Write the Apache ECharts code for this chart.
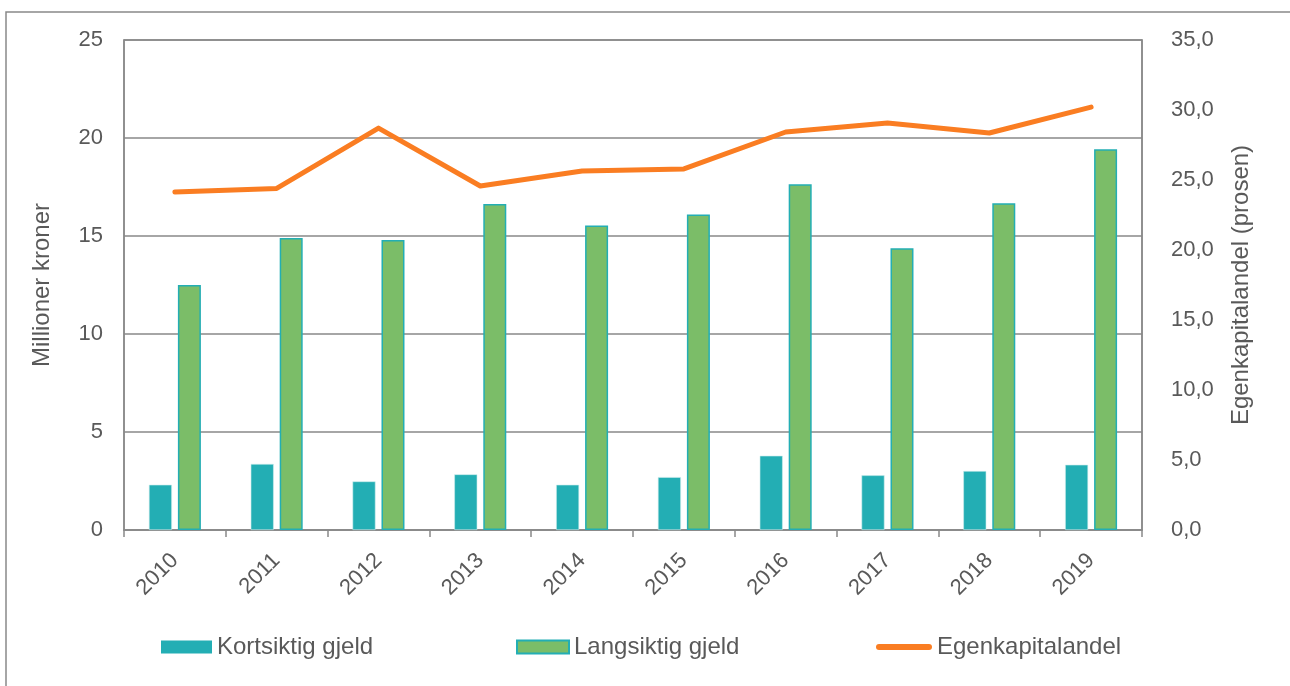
<!DOCTYPE html>
<html>
<head>
<meta charset="utf-8">
<script src="https://cdn.jsdelivr.net/npm/echarts@6/dist/echarts.min.js"></script>
<style>
html,body{margin:0;padding:0;background:#fff;}
#chart{width:1290px;height:686px;}
</style>
</head>
<body>
<div id="chart"></div>
<script>
var years = ['2010','2011','2012','2013','2014','2015','2016','2017','2018','2019'];
var kortsiktig = [2.31, 3.37, 2.48, 2.84, 2.31, 2.70, 3.79, 2.79, 3.01, 3.33];
var langsiktig = [12.5, 14.9, 14.8, 16.63, 15.53, 16.1, 17.64, 14.37, 16.67, 19.42];
var egenkapital = [24.14, 24.4, 28.71, 24.57, 25.64, 25.79, 28.43, 29.07, 28.36, 30.21];
var leftTicks = [0, 25, 5];
var rightTicks = [0, 35, 5];

var FONT = '"Liberation Sans", Arial, sans-serif';
var TXT = '#595959';
var AX = '#898989';
var TEAL = '#23AEB4';
var GREEN = '#7BBD68';
var ORANGE = '#FA7D22';
var legendText = {fontFamily: FONT, fontSize: 24, color: TXT};

var chart = echarts.init(document.getElementById('chart'), null, {renderer:'canvas'});
chart.setOption({
  animation: false,
  backgroundColor: '#fff',
  textStyle: {fontFamily: FONT},
  graphic: [{
    type: 'rect', z: -1, silent: true,
    shape: {x: 6, y: 12, width: 1300, height: 700},
    style: {fill: 'none', stroke: AX, lineWidth: 1.5}
  }],
  grid: {left: 124, right: 148, top: 40, bottom: 156, containLabel: false,
         show: true, borderColor: AX, borderWidth: 1.5},
  legend: [{
    left: 161, top: 635, padding: 0, itemWidth: 51, itemHeight: 13,
    textStyle: legendText, itemStyle: {borderWidth: 0},
    data: [{name: 'Kortsiktig gjeld', icon: 'rect'}]
  }, {
    left: 516, top: 635, padding: 0, itemWidth: 52, itemHeight: 13,
    textStyle: legendText,
    data: [{name: 'Langsiktig gjeld', icon: 'rect'}]
  }, {
    left: 876, top: 635, padding: 0, itemWidth: 56, itemHeight: 6,
    textStyle: legendText,
    data: [{name: 'Egenkapitalandel',
      icon: 'path://M3,0 H53 A3,3 0 0 1 53,6 H3 A3,3 0 0 1 3,0 Z'}]
  }],
  xAxis: {
    type: 'category', data: years,
    axisLine: {lineStyle: {color: AX, width: 1.5}},
    axisTick: {show: true, length: 7, lineStyle: {color: AX, width: 1.5}},
    axisLabel: {rotate: 45, fontSize: 22, color: TXT, fontFamily: FONT, margin: 27}
  },
  yAxis: [{
    type: 'value', min: leftTicks[0], max: leftTicks[1], interval: leftTicks[2],
    name: 'Millioner kroner', nameLocation: 'middle', nameGap: 70, nameRotate: 90,
    nameTextStyle: {fontSize: 24, color: TXT, fontFamily: FONT},
    axisLine: {show: true, lineStyle: {color: AX, width: 1.5}},
    axisTick: {show: false},
    axisLabel: {fontSize: 22, color: TXT, fontFamily: FONT, margin: 21},
    splitLine: {show: true, lineStyle: {color: AX, width: 1.5}}
  }, {
    type: 'value', min: rightTicks[0], max: rightTicks[1], interval: rightTicks[2],
    position: 'right',
    name: 'Egenkapitalandel (prosen)', nameLocation: 'middle', nameGap: 87, nameRotate: 90,
    nameTextStyle: {fontSize: 24, color: TXT, fontFamily: FONT},
    axisLine: {show: true, lineStyle: {color: AX, width: 1.5}},
    axisTick: {show: false},
    axisLabel: {fontSize: 22, color: TXT, fontFamily: FONT, margin: 29,
      formatter: function (v) { return v.toFixed(1).replace('.', ','); }},
    splitLine: {show: false}
  }],
  series: [{
    name: 'Kortsiktig gjeld', type: 'bar', data: kortsiktig,
    barWidth: 23, barGap: '26%',
    itemStyle: {color: TEAL, borderColor: '#cdeced', borderWidth: 0.6}
  }, {
    name: 'Langsiktig gjeld', type: 'bar', data: langsiktig,
    barWidth: 23,
    itemStyle: {color: GREEN, borderColor: TEAL, borderWidth: 1.5}
  }, {
    name: 'Egenkapitalandel', type: 'line', yAxisIndex: 1, data: egenkapital,
    symbol: 'none', z: 5,
    lineStyle: {color: ORANGE, width: 5, cap: 'round', join: 'round'},
    itemStyle: {color: ORANGE}
  }]
});
</script>
</body>
</html>
